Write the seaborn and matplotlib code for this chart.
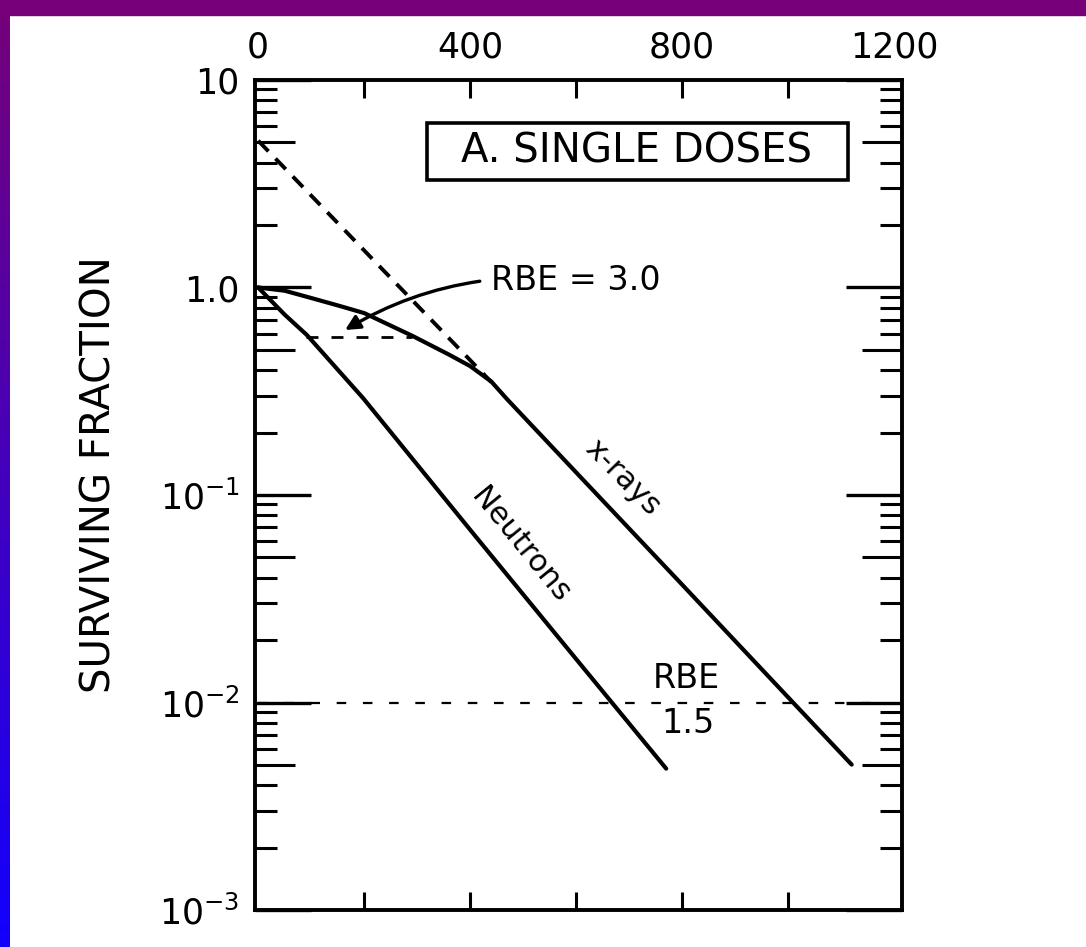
import numpy as np
import pandas as pd
import matplotlib
matplotlib.use("Agg")
import matplotlib.pyplot as plt
from matplotlib.patches import Rectangle
from matplotlib.ticker import FixedLocator, FixedFormatter, NullFormatter, NullLocator
import seaborn as sns

# ---------------- data ----------------
xray_dose = [0, 50, 100, 150, 200, 292, 360, 400, 440, 470, 600, 800, 1000, 1120]
xray_sf = [1.0, 0.965, 0.89, 0.82, 0.753, 0.583, 0.475, 0.418, 0.352, 0.289,
           0.1285, 0.037, 0.0106, 0.00502]

neutron_dose = [0, 50, 92, 198, 400, 600, 770]
neutron_sf = [1.0, 0.74, 0.59, 0.293, 0.068, 0.0162, 0.0048]

extrap_dose = [0, 440]
extrap_sf = [5.1, 0.35]

rbe3_dose = [90, 290]
rbe3_sf = [0.58, 0.58]

rbe15_dose = [0, 1165]
rbe15_sf = [0.01, 0.01]

x_major_ticks = [0, 400, 800, 1200]
x_major_labels = ["0", "400", "800", "1200"]
x_minor_ticks = [200, 400, 600, 800, 1000]

y_major_ticks = [1e-3, 1e-2, 1e-1, 1.0, 10.0]
y_major_labels = [r"$10^{-3}$", r"$10^{-2}$", r"$10^{-1}$", "1.0", "10"]
y_mid_ticks = [5e-3, 5e-2, 5e-1, 5.0]

# ---------------- style ----------------
sns.set_style("white")
plt.rcParams["font.family"] = ["DejaVu Sans"]
plt.rcParams["mathtext.default"] = "regular"
plt.rcParams["text.color"] = "black"
plt.rcParams["axes.labelcolor"] = "black"

W, H = 1086, 947
fig = plt.figure(figsize=(W / 100, H / 100), dpi=100)
fig.patch.set_facecolor("white")

# decorative border: purple top band, purple->blue left band
fig.patches.append(Rectangle((0, 1 - 15 / H), 1, 15 / H, transform=fig.transFigure,
                             color="#760078", zorder=0))
gax = fig.add_axes([0, 0, 10 / W, 1])
top = np.array([0x76, 0x00, 0x78]) / 255
bot = np.array([0x12, 0x00, 0xFF]) / 255
t = np.linspace(0, 1, 256)[:, None]
grad = (top[None, :] * (1 - t) + bot[None, :] * t)[:, None, :]
gax.imshow(grad, aspect="auto", extent=[0, 1, 0, 1])
gax.set_axis_off()

ax = fig.add_axes([255 / W, 1 - 910 / H, 647 / W, 830 / H])
ax.set_yscale("log")

LW = 3.0
sns.lineplot(x=xray_dose, y=xray_sf, ax=ax, color="black", lw=LW, sort=False,
             estimator=None, zorder=5)
sns.lineplot(x=neutron_dose, y=neutron_sf, ax=ax, color="black", lw=LW, sort=False,
             estimator=None, zorder=5)
sns.lineplot(x=extrap_dose, y=extrap_sf, ax=ax, color="black", lw=2.8, sort=False,
             estimator=None, linestyle=(0, (3.8, 2.6)), zorder=4)
sns.lineplot(x=rbe3_dose, y=rbe3_sf, ax=ax, color="black", lw=2.0, sort=False,
             estimator=None, linestyle=(0, (4.3, 4.7)), zorder=4)
sns.lineplot(x=rbe15_dose, y=rbe15_sf, ax=ax, color="black", lw=1.6, sort=False,
             estimator=None, linestyle=(0, (4.3, 7.5)), zorder=4)

ax.set_xlim(-6, 1215)
ax.set_ylim(1e-3, 10)

for s in ax.spines.values():
    s.set_color("black")
    s.set_linewidth(2.8)
    s.set_visible(True)

# x ticks on top, labelled; marks at every 200
ax.xaxis.set_major_locator(FixedLocator(x_major_ticks))
ax.xaxis.set_major_formatter(FixedFormatter(x_major_labels))
ax.xaxis.set_minor_locator(FixedLocator(x_minor_ticks))
ax.xaxis.set_minor_formatter(NullFormatter())
ax.xaxis.remove_overlapping_locs = False
ax.tick_params(axis="x", which="major", length=0, top=True, bottom=True,
               labeltop=True, labelbottom=False, labelsize=25, pad=11, colors="black")
ax.tick_params(axis="x", which="minor", direction="in", length=13, width=2.2,
               top=True, bottom=True, color="black")

# medium ticks at 5 x 10^k on a twin axis
ax2 = ax.twinx()
ax2.set_yscale("log")
ax2.set_ylim(1e-3, 10)
ax2.yaxis.set_major_locator(FixedLocator(y_mid_ticks))
ax2.yaxis.set_major_formatter(NullFormatter())
ax2.yaxis.set_minor_locator(NullLocator())
ax2.tick_params(axis="y", which="major", direction="in", length=29, width=2.2,
                left=True, right=True, labelleft=False, labelright=False, color="black")
for s in ax2.spines.values():
    s.set_visible(False)

# y ticks
ax.yaxis.set_major_locator(FixedLocator(y_major_ticks))
ax.yaxis.set_major_formatter(FixedFormatter(y_major_labels))
minor_y = [m * 10.0 ** e for e in range(-3, 1) for m in (2, 3, 4, 6, 7, 8, 9)]
ax.yaxis.set_minor_locator(FixedLocator(minor_y))
ax.yaxis.set_minor_formatter(NullFormatter())
ax.tick_params(axis="y", which="major", direction="in", length=40, width=2.4,
               left=True, right=True, labelleft=True, labelright=False,
               labelsize=25, pad=11, colors="black")
ax.tick_params(axis="y", which="minor", direction="in", length=16, width=2.2,
               left=True, right=True, color="black")

ax.set_ylabel("SURVIVING FRACTION", fontsize=29, va="center", color="black")
ax.yaxis.set_label_coords(-0.24, 0.524)
ax.set_xlabel("")

# panel title box
ax.add_patch(Rectangle((0.266, 0.8795), 0.6505, 0.0685, transform=ax.transAxes,
                       fill=True, fc="white", ec="black", lw=2.6, zorder=6))
ax.text(0.589, 0.914, "A. SINGLE DOSES", transform=ax.transAxes, fontsize=29,
        ha="center", va="center", zorder=7)

ax.annotate("RBE = 3.0", xy=(164, 0.624), xytext=(440, 1.085), fontsize=24,
            ha="left", va="center",
            arrowprops=dict(arrowstyle="-|>", color="black", lw=2.4, mutation_scale=22,
                            connectionstyle="arc3,rad=0.17", shrinkA=6, shrinkB=0))

ax.text(808, 0.013, "RBE", fontsize=24, ha="center", va="center")
ax.text(811, 0.0079, "1.5", fontsize=24, ha="center", va="center")

ax.text(494, 0.0574, "Neutrons", fontsize=22, rotation=-50.8, ha="center", va="center",
        rotation_mode="anchor")
ax.text(687, 0.121, "x-rays", fontsize=22, rotation=-45.5, ha="center", va="center",
        rotation_mode="anchor")

fig.savefig("out.png", dpi=100)
